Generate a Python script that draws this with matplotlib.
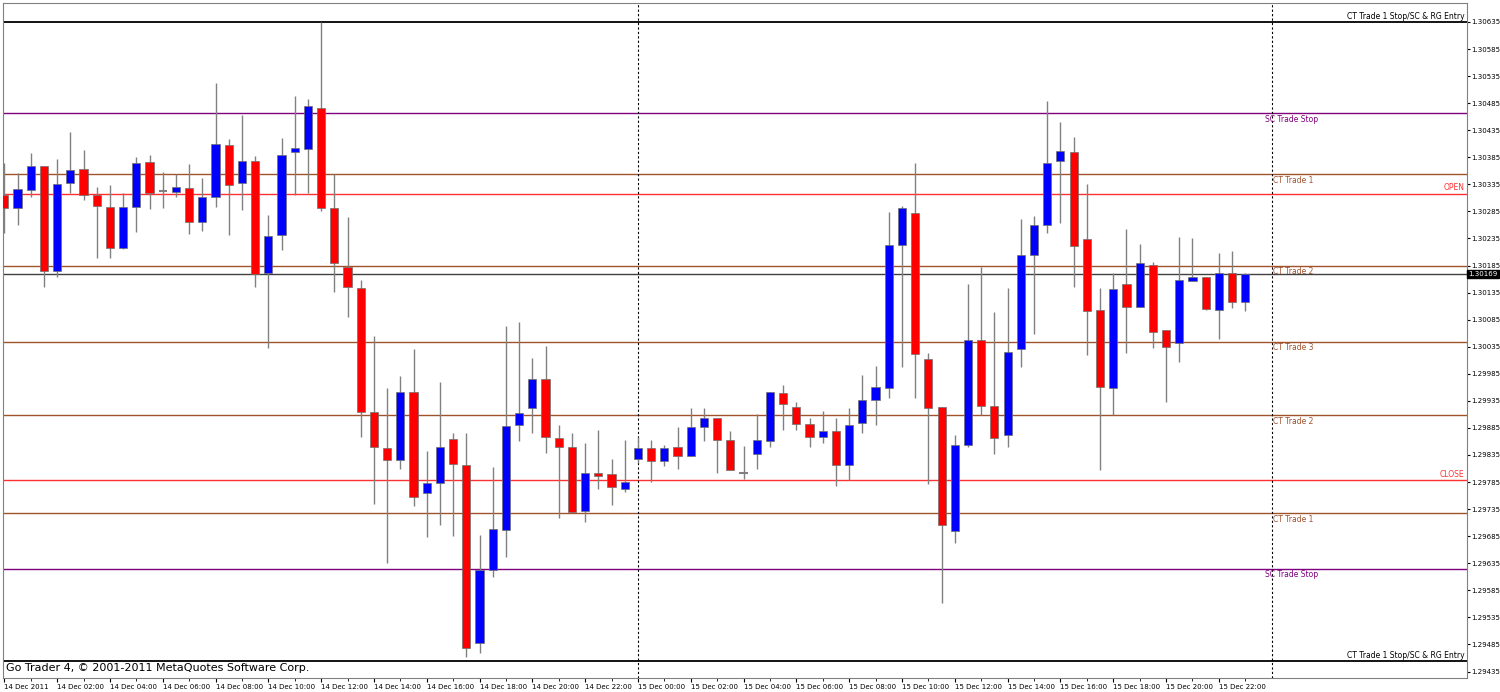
import matplotlib
matplotlib.use("Agg")
import matplotlib.pyplot as plt
from matplotlib.ticker import FixedLocator

opens = [1.30316,1.30292,1.30325,1.30369,1.30174,1.30338,1.30364,1.30316,1.30294,1.30218,
         1.30294,1.30377,1.30323,1.30321,1.30329,1.30266,1.30312,1.30408,1.30338,1.30378,
         1.30172,1.30242,1.30395,1.30401,1.30476,1.30292,1.30183,1.30144,1.29915,1.29847,
         1.29826,1.29952,1.29764,1.29784,1.29865,1.29817,1.29487,1.29623,1.29697,1.29891,
         1.29922,1.29976,1.29867,1.29849,1.29732,1.29801,1.29799,1.29773,1.29828,1.29847,
         1.29823,1.29849,1.29834,1.29887,1.29904,1.29862,1.29802,1.29836,1.29860,1.29950,
         1.29924,1.29893,1.29869,1.29880,1.29817,1.29895,1.29937,1.29959,1.30223,1.30282,
         1.30013,1.29924,1.29695,1.29854,1.30048,1.29926,1.29871,1.30030,1.30205,1.30260,
         1.30378,1.30395,1.30234,1.30103,1.29958,1.30151,1.30109,1.30186,1.30065,1.30042,
         1.30157,1.30164,1.30103,1.30172,1.30118]
highs = [1.30375,1.30356,1.30393,1.30369,1.30382,1.30432,1.30399,1.30330,1.30334,1.30319,
         1.30386,1.30390,1.30358,1.30354,1.30373,1.30347,1.30522,1.30419,1.30463,1.30388,
         1.30279,1.30421,1.30498,1.30493,1.30635,1.30354,1.30275,1.30159,1.30054,1.29958,
         1.29980,1.30030,1.29843,1.29970,1.29876,1.29876,1.29688,1.29812,1.30074,1.30081,
         1.30015,1.30037,1.29891,1.29876,1.29858,1.29882,1.29828,1.29862,1.29869,1.29862,
         1.29854,1.29886,1.29922,1.29922,1.29904,1.29880,1.29852,1.29911,1.29952,1.29965,
         1.29932,1.29904,1.29917,1.29904,1.29922,1.29983,1.30000,1.30284,1.30295,1.30375,
         1.30024,1.29924,1.29871,1.30150,1.30183,1.30100,1.30144,1.30271,1.30277,1.30489,
         1.30450,1.30423,1.30336,1.30144,1.30172,1.30253,1.30225,1.30192,1.30065,1.30238,
         1.30236,1.30164,1.30209,1.30212,1.30172]
lows = [1.30246,1.30260,1.30312,1.30146,1.30164,1.30319,1.30306,1.30199,1.30199,1.30215,
        1.30247,1.30290,1.30292,1.30312,1.30244,1.30249,1.30294,1.30242,1.30288,1.30146,
        1.30033,1.30214,1.30316,1.30319,1.30286,1.30137,1.30090,1.29869,1.29745,1.29635,
        1.29810,1.29740,1.29683,1.29705,1.29686,1.29461,1.29470,1.29610,1.29647,1.29860,
        1.29876,1.29838,1.29719,1.29727,1.29712,1.29773,1.29743,1.29766,1.29821,1.29786,
        1.29814,1.29810,1.29834,1.29860,1.29802,1.29808,1.29791,1.29810,1.29849,1.29882,
        1.29882,1.29849,1.29858,1.29777,1.29788,1.29876,1.29891,1.29941,1.29998,1.29941,
        1.29782,1.29561,1.29673,1.29850,1.29908,1.29836,1.29849,1.29998,1.30059,1.30246,
        1.30264,1.30146,1.30020,1.29808,1.29908,1.30024,1.30109,1.30033,1.29932,1.30006,
        1.30157,1.30103,1.30050,1.30107,1.30101]
closes = [1.30292,1.30327,1.30369,1.30174,1.30336,1.30362,1.30316,1.30295,1.30218,1.30294,
          1.30375,1.30319,1.30323,1.30330,1.30266,1.30312,1.30410,1.30334,1.30378,1.30170,
          1.30240,1.30390,1.30402,1.30480,1.30292,1.30190,1.30146,1.29915,1.29849,1.29826,
          1.29952,1.29758,1.29784,1.29850,1.29819,1.29479,1.29623,1.29699,1.29889,1.29913,
          1.29976,1.29869,1.29849,1.29730,1.29802,1.29797,1.29775,1.29786,1.29847,1.29823,
          1.29847,1.29834,1.29887,1.29904,1.29862,1.29808,1.29802,1.29862,1.29952,1.29930,
          1.29893,1.29869,1.29880,1.29817,1.29891,1.29937,1.29961,1.30223,1.30292,1.30022,
          1.29922,1.29705,1.29854,1.30048,1.29926,1.29867,1.30026,1.30205,1.30260,1.30375,
          1.30397,1.30222,1.30101,1.29961,1.30142,1.30109,1.30190,1.30063,1.30035,1.30159,
          1.30163,1.30105,1.30172,1.30118,1.30169]

level_prices = [1.30635, 1.30467, 1.30354, 1.30318, 1.30185, 1.30044, 1.29908, 1.29788, 1.29727, 1.29625, 1.29455]
level_names = ["CT Trade 1 Stop/SC & RG Entry", "SC Trade Stop", "CT Trade 1", "OPEN", "CT Trade 2",
               "CT Trade 3", "CT Trade 2", "CLOSE", "CT Trade 1", "SC Trade Stop", "CT Trade 1 Stop/SC & RG Entry"]
level_colors = ["#000000", "#800080", "#A0522D", "#FF3030", "#A0522D", "#A0522D", "#A0522D",
                "#FF3030", "#A0522D", "#800080", "#000000"]
last_price = 1.30169

day_labels = ["14 Dec 2011"] + ["14 Dec %02d:00" % h for h in range(2, 24, 2)] + \
             ["15 Dec %02d:00" % h for h in range(0, 24, 2)]
y_ticks = [1.29435 + 0.0005 * k for k in range(25)]

fig = plt.figure(figsize=(15, 6.92), dpi=100)
ax = fig.add_axes([3/1500, 14/692, 1464/1500, 675/692])
ax.set_xlim(-0.1, 110.8)
ax.set_ylim(1.29423, 1.30670)

w = 0.62
for i, (o, h, l, c) in enumerate(zip(opens, highs, lows, closes)):
    col = "#0000FF" if c > o else "#FF0000"
    ax.vlines(i, l, h, color="#808080", lw=1, zorder=3)
    if abs(c - o) < 0.00003:
        ax.hlines(o, i - w/2, i + w/2, color="#808080" if c == o else col, lw=1.5, zorder=4)
    else:
        ax.bar(i, c - o, bottom=o, width=w, color=col, edgecolor="#707070", lw=0.5, zorder=4)

for p, n, col in zip(level_prices, level_names, level_colors):
    lw = 1.3 if col == "#000000" else 1.0
    ax.axhline(p, color=col, lw=lw, zorder=2)
    if n.startswith("CT Trade 1 Stop"):
        ax.text(110.6, p + 0.00002, n, ha="right", va="bottom", fontsize=5.5, color="black")
    elif n in ("OPEN", "CLOSE"):
        ax.text(110.6, p + 0.00002, n, ha="right", va="bottom", fontsize=5.5, color=col)
    elif n == "SC Trade Stop":
        ax.text(95.5, p - 0.00003, n, ha="left", va="top", fontsize=5.5, color=col)
    else:
        ax.text(96.1, p - 0.00003, n, ha="left", va="top", fontsize=5.5, color=col)

ax.axhline(last_price, color="#404040", lw=1.0, zorder=2)
ax.axvline(48, color="black", ls=(0, (2, 2)), lw=0.8)
ax.axvline(96, color="black", ls=(0, (2, 2)), lw=0.8)

ax.yaxis.tick_right()
ax.set_yticks(y_ticks)
ax.set_yticklabels(["%.5f" % v for v in y_ticks])
ax.tick_params(axis="y", labelsize=5, length=2, pad=1)
ax.text(1.001, last_price, "%.5f" % last_price, transform=ax.get_yaxis_transform(),
        ha="left", va="center", fontsize=5, color="white",
        bbox=dict(boxstyle="square,pad=0.15", fc="black", ec="black"))

xt = list(range(0, 96, 4))
ax.set_xticks(xt)
ax.set_xticklabels(day_labels, ha="left")
ax.xaxis.set_minor_locator(FixedLocator(list(range(2, 96, 4))))
ax.tick_params(axis="x", labelsize=5, length=3, pad=1)
ax.tick_params(axis="x", which="minor", length=2)

ax.text(0.002, 0.008, "Go Trader 4, \u00a9 2001-2011 MetaQuotes Software Corp.", transform=ax.transAxes,
        fontsize=8, color="black", ha="left", va="bottom")
for s in ax.spines.values():
    s.set_color("#808080")

fig.savefig("out.png", dpi=100)
